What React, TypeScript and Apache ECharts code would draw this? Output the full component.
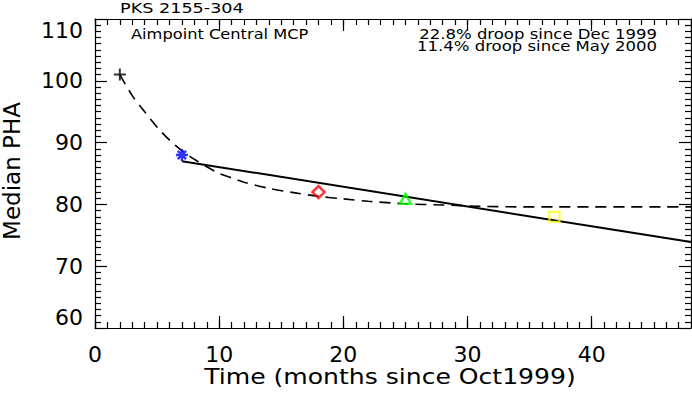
import { useEffect, useRef } from "react";
import * as echarts from "echarts";

// dashed curve
const curveX = [2, 3, 4, 5, 6, 7, 8, 9, 10, 11, 12, 14, 16, 18, 20, 22, 25, 28, 31, 34, 37, 40, 43, 46, 48];
const curveY = [101.0, 97.6, 95.0, 92.5, 90.4, 88.7, 87.3, 86.1, 85.0, 84.3, 83.6, 82.6, 81.9, 81.3, 80.9, 80.5, 80.1, 79.9, 79.7, 79.6, 79.6, 79.6, 79.6, 79.6, 79.6];

// solid linear fit
const fitX = [7, 48];
const fitY = [87.0, 73.9];

// measured points
const plusPoint = [2, 101.0];
const starPoint = [7, 88.0];
const diamondPoint = [18, 82.0];
const trianglePoint = [25, 80.9];
const squarePoint = [37, 78.0];

const xTicks = { min: 0, max: 48, major: 10, minor: 1 };
const yTicks = { min: 60, max: 110, major: 10 };

const titleText = "PKS 2155-304";
const detectorText = "Aimpoint Central MCP";
const droopLines = ["22.8% droop since Dec 1999", "11.4% droop since May 2000"];

const FONT = '"DejaVu Sans", sans-serif';

const PLUS = "path://M0,5 L10,5 M5,0 L5,10";
const STAR = "path://M0,5 L10,5 M5,0 L5,10 M1.5,1.5 L8.5,8.5 M8.5,1.5 L1.5,8.5";

export default function App() {
  const ref = useRef<HTMLDivElement>(null);

  useEffect(() => {
    if (!ref.current) return;
    const chart = echarts.init(ref.current, null, { renderer: "svg" });

    const axisLine = { show: true, onZero: false, lineStyle: { color: "#000", width: 1.2 } };
    const major = { show: true, inside: true, length: 12, lineStyle: { color: "#000", width: 1.2 } };
    const minor = { show: true, inside: true, length: 6, lineStyle: { color: "#000", width: 1.2 } };
    const baseX = {
      type: "value" as const,
      min: xTicks.min,
      max: xTicks.max,
      splitLine: { show: false },
    };
    const small = `14px ${FONT}`;

    chart.setOption({
      animation: false,
      backgroundColor: "#fff",
      grid: { left: 95, right: 1, top: 19, bottom: 72, containLabel: false },
      xAxis: [
        {
          ...baseX,
          position: "bottom",
          interval: xTicks.major,
          axisLine,
          axisTick: major,
          axisLabel: {
            color: "#000",
            fontFamily: FONT,
            fontSize: 22,
            margin: 15,
            showMaxLabel: false,
          },
        },
        {
          ...baseX,
          position: "bottom",
          interval: xTicks.minor,
          axisLine: { show: false },
          axisTick: minor,
          axisLabel: { show: false },
        },
        {
          ...baseX,
          position: "top",
          interval: xTicks.major,
          axisLine,
          axisTick: major,
          axisLabel: { show: false },
        },
        {
          ...baseX,
          position: "top",
          interval: xTicks.minor,
          axisLine: { show: false },
          axisTick: minor,
          axisLabel: { show: false },
        },
      ],
      yAxis: [
        {
          type: "value",
          position: "left",
          min: yTicks.min,
          max: yTicks.max,
          interval: yTicks.major,
          splitLine: { show: false },
          axisLine,
          axisTick: major,
          minorTick: { ...minor, splitNumber: 10 },
          axisLabel: {
            color: "#000",
            fontFamily: FONT,
            fontSize: 22,
            margin: 12,
            verticalAlignMinLabel: "bottom",
            verticalAlignMaxLabel: "top",
          },
        },
        {
          type: "value",
          position: "right",
          min: yTicks.min,
          max: yTicks.max,
          interval: yTicks.major,
          splitLine: { show: false },
          axisLine,
          axisTick: major,
          minorTick: { ...minor, splitNumber: 10 },
          axisLabel: { show: false },
        },
      ],
      graphic: [
        {
          type: "text",
          x: 120,
          y: 1,
          scaleX: 1.26,
          style: { text: titleText, font: small, fill: "#000", verticalAlign: "top" },
        },
        {
          type: "text",
          x: 131,
          y: 27,
          scaleX: 1.16,
          style: { text: detectorText, font: small, fill: "#000", verticalAlign: "top" },
        },
        {
          type: "text",
          x: 657,
          y: 27,
          scaleX: 1.18,
          style: { text: droopLines[0], font: small, fill: "#000", align: "right", verticalAlign: "top" },
        },
        {
          type: "text",
          x: 657,
          y: 39,
          scaleX: 1.18,
          style: { text: droopLines[1], font: small, fill: "#000", align: "right", verticalAlign: "top" },
        },
        {
          type: "text",
          x: 390,
          y: 377,
          scaleX: 1.14,
          style: {
            text: "Time (months since Oct1999)",
            font: `22px ${FONT}`,
            fill: "#000",
            align: "center",
            verticalAlign: "middle",
          },
        },
        {
          type: "text",
          x: 12,
          y: 171,
          rotation: Math.PI / 2,
          style: {
            text: "Median PHA",
            font: `23px ${FONT}`,
            fill: "#000",
            align: "center",
            verticalAlign: "middle",
          },
        },
      ],
      series: [
        {
          type: "line",
          data: curveX.map((x, i) => [x, curveY[i]]),
          showSymbol: false,
          smooth: 0.3,
          lineStyle: { color: "#000", width: 1.6, type: [11, 7] },
          silent: true,
          z: 2,
        },
        {
          type: "line",
          data: fitX.map((x, i) => [x, fitY[i]]),
          showSymbol: false,
          lineStyle: { color: "#000", width: 2 },
          silent: true,
          z: 2,
        },
        {
          type: "scatter",
          data: [plusPoint],
          symbol: PLUS,
          symbolSize: 12,
          itemStyle: { color: "transparent", borderColor: "#000", borderWidth: 2 },
          z: 3,
        },
        {
          type: "scatter",
          data: [starPoint],
          symbol: STAR,
          symbolSize: 12,
          itemStyle: { color: "transparent", borderColor: "#0000ff", borderWidth: 2.5 },
          z: 3,
        },
        {
          type: "scatter",
          data: [diamondPoint],
          symbol: "diamond",
          symbolSize: [12, 12],
          itemStyle: { color: "transparent", borderColor: "#ff0000", borderWidth: 2.5 },
          z: 3,
        },
        {
          type: "scatter",
          data: [trianglePoint],
          symbol: "triangle",
          symbolSize: [11, 10],
          itemStyle: { color: "transparent", borderColor: "#00ff00", borderWidth: 2.5 },
          z: 3,
        },
        {
          type: "scatter",
          data: [squarePoint],
          symbol: "rect",
          symbolSize: [10, 10],
          itemStyle: { color: "transparent", borderColor: "#ffff00", borderWidth: 2.2 },
          z: 3,
        },
      ],
    });

    return () => chart.dispose();
  }, []);

  return (
    <div
      ref={ref}
      style={{ position: "fixed", left: 0, top: 0, width: 692, height: 400, background: "#fff" }}
    />
  );
}
